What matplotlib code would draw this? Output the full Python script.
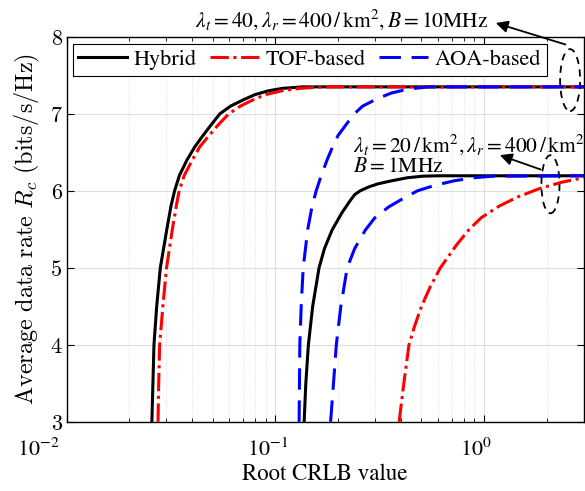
import matplotlib
matplotlib.use("Agg")
import matplotlib.pyplot as plt
from matplotlib.patches import Ellipse
from matplotlib.ticker import LogLocator, NullFormatter
from matplotlib.transforms import ScaledTranslation

plt.rcParams['font.family'] = ['STIXGeneral', 'DejaVu Sans']
plt.rcParams['mathtext.fontset'] = 'stix'

# lambda_t = 40, B = 10 MHz
hyb1_y = [3.0, 3.5, 4.0, 4.5, 5.0, 5.5, 5.8, 6.0, 6.2, 6.4, 6.57, 6.7, 6.85, 7.0, 7.1, 7.18, 7.25, 7.3, 7.33, 7.35, 7.35]
hyb1_x = [0.0256, 0.0259, 0.0262, 0.0270, 0.0281, 0.0302, 0.0316, 0.0329, 0.0347, 0.0377, 0.0411, 0.0445, 0.049,
          0.0542, 0.0610, 0.0700, 0.0800, 0.0930, 0.108, 0.135, 3.0]
tof1_y = hyb1_y
tof1_x = [0.0274, 0.0276, 0.0279, 0.0289, 0.0301, 0.0321, 0.0335, 0.0346, 0.0366, 0.0400, 0.0434, 0.0475, 0.053,
          0.0598, 0.0680, 0.0780, 0.090, 0.108, 0.130, 0.169, 3.0]
aoa1_y = [3.0, 3.5, 4.0, 4.5, 5.0, 5.5, 5.8, 6.0, 6.2, 6.4, 6.57, 6.72, 6.85, 7.0, 7.1, 7.2, 7.27, 7.32, 7.35, 7.35]
aoa1_x = [0.130, 0.1305, 0.131, 0.133, 0.136, 0.143, 0.150, 0.157, 0.166, 0.177, 0.188, 0.200, 0.217, 0.239,
          0.262, 0.310, 0.360, 0.430, 0.540, 3.0]

# lambda_t = 20, B = 1 MHz
hyb2_y = [3.0, 3.5, 4.0, 4.5, 5.0, 5.25, 5.49, 5.71, 5.87, 5.95, 6.0, 6.05, 6.09, 6.13, 6.17, 6.19, 6.195, 6.195]
hyb2_x = [0.1374, 0.140, 0.144, 0.151, 0.162, 0.172, 0.187, 0.208, 0.228, 0.240, 0.255, 0.280, 0.310, 0.361,
          0.430, 0.510, 0.600, 3.0]
aoa2_y = [3.0, 3.5, 4.0, 4.5, 5.0, 5.25, 5.49, 5.65, 5.79, 5.9, 6.0, 6.07, 6.13, 6.17, 6.19, 6.195]
aoa2_x = [0.184, 0.190, 0.196, 0.206, 0.221, 0.240, 0.270, 0.300, 0.349, 0.410, 0.480, 0.580, 0.720, 0.900,
          1.10, 3.0]
tof2_y = [3.0, 3.5, 4.0, 4.25, 4.5, 4.75, 5.0, 5.3, 5.5, 5.65, 5.8, 5.92, 6.03, 6.11, 6.17]
tof2_x = [0.392, 0.413, 0.437, 0.466, 0.502, 0.552, 0.618, 0.740, 0.850, 0.970, 1.18, 1.45, 1.85, 2.35, 3.0]

x_ticks = [0.01, 0.1, 1]
y_ticks = [3, 4, 5, 6, 7, 8]

fig = plt.figure(figsize=(5.85, 4.91), dpi=100)
ax = fig.add_axes([0.114, 0.141, 0.8835, 0.784])

lw = 2.2
tof_dash = (6, 1.5, 1, 1.5)
aoa_dash = (7, 3.5)
ax.plot(hyb1_x, hyb1_y, color='black', lw=lw, label='Hybrid')
ax.plot(tof1_x, tof1_y, color='red', lw=lw, dashes=tof_dash, label='TOF-based')
ax.plot(aoa1_x, aoa1_y, color='blue', lw=lw, dashes=aoa_dash, label='AOA-based')
ax.plot(hyb2_x, hyb2_y, color='black', lw=lw)
ax.plot(tof2_x, tof2_y, color='red', lw=lw, dashes=tof_dash)
ax.plot(aoa2_x, aoa2_y, color='blue', lw=lw, dashes=aoa_dash)

ax.set_xscale('log')
ax.set_xlim(0.01, 3)
ax.set_ylim(3, 8)
ax.set_xticks(x_ticks)
ax.set_yticks(y_ticks)
ax.xaxis.set_minor_locator(LogLocator(base=10, subs=range(2, 10)))
ax.xaxis.set_minor_formatter(NullFormatter())

ax.grid(True, which='major', color='#dedede', lw=0.8)
ax.grid(True, which='minor', axis='x', color='#dedede', lw=0.7, ls=':')
ax.set_axisbelow(True)
ax.tick_params(which='both', direction='in', top=True, right=True)
ax.tick_params(which='major', length=5, labelsize=16)
ax.tick_params(which='minor', length=3)
ax.tick_params(axis='x', which='major', pad=12)
for lab in ax.get_yticklabels():
    lab.set_fontfamily('cmr10')
# MATLAB-style placement of the log tick labels (slightly left of the tick)
for i, lab in enumerate(ax.get_xticklabels()):
    dx = -28 if i == 0 else -8
    lab.set_transform(lab.get_transform() + ScaledTranslation(dx / 100, 0, fig.dpi_scale_trans))
for s in ax.spines.values():
    s.set_linewidth(1.0)

ax.set_xlabel('Root CRLB value', fontsize=16.5, labelpad=2)
ax.set_ylabel(r'$\mathrm{Average\ data\ rate}\ R_c\ \mathrm{(bits/s/Hz)}$', fontsize=17.5,
              math_fontfamily='cm', labelpad=6)

leg = ax.legend(loc='upper left', bbox_to_anchor=(0.0116, 0.981), borderaxespad=0, ncol=3, fontsize=16,
                frameon=True, fancybox=False, edgecolor='black', framealpha=1,
                handlelength=2.2, columnspacing=0.6, handletextpad=0.3, borderpad=0.25)
leg.get_frame().set_linewidth(0.8)

ax.text(0.533, 1.043, r'$\lambda_t = 40, \lambda_r = 400\,/\,\mathrm{km}^2, B = 10\mathrm{MHz}$',
        transform=ax.transAxes, ha='center', va='center', fontsize=15.5)
ax.text(0.554, 0.718, r'$\lambda_t = 20\,/\,\mathrm{km}^2, \lambda_r = 400\,/\,\mathrm{km}^2$',
        transform=ax.transAxes, ha='left', va='center', fontsize=15.5)
ax.text(0.554, 0.661, r'$B = 1\mathrm{MHz}$',
        transform=ax.transAxes, ha='left', va='center', fontsize=15.5)

ax.add_patch(Ellipse((0.974, 0.8875), 0.0387, 0.161, transform=ax.transAxes, fill=False,
                     ls=(0, (4, 3)), lw=1.3, ec='black', clip_on=False))
ax.add_patch(Ellipse((0.936, 0.617), 0.035, 0.151, transform=ax.transAxes, fill=False,
                     ls=(0, (4, 3)), lw=1.3, ec='black', clip_on=False))
ax.annotate('', xy=(0.825, 1.038), xytext=(0.970, 0.978), xycoords='axes fraction',
            arrowprops=dict(arrowstyle='-|>', color='black', lw=1.3, mutation_scale=18),
            annotation_clip=False)
ax.annotate('', xy=(0.833, 0.695), xytext=(0.922, 0.653), xycoords='axes fraction',
            arrowprops=dict(arrowstyle='-|>', color='black', lw=1.3, mutation_scale=18))

fig.savefig('out.png', dpi=100)
